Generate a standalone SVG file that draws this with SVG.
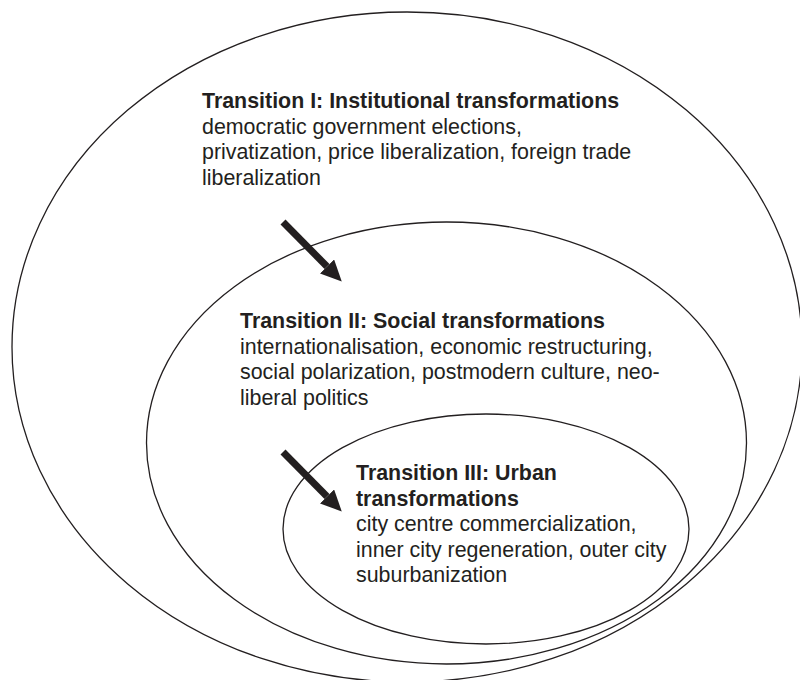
<svg xmlns="http://www.w3.org/2000/svg" width="800" height="680" viewBox="0 0 800 680">
  <style>
    .ring { fill: none; stroke: #231f20; stroke-width: 1.3; }
    .label { font-family: "Liberation Sans", Arial, sans-serif; font-size: 21.4px; fill: #231f20; }
    .title { font-weight: bold; }
    .arrow { stroke: #231f20; stroke-width: 7; fill: none; marker-end: url(#head); }
  </style>
  <defs>
    <marker id="head" markerUnits="userSpaceOnUse" markerWidth="22" markerHeight="20" refX="0" refY="10" orient="auto" viewBox="0 0 22 20">
      <path d="M0,0 L21,10 L0,20 Z" fill="#231f20"/>
    </marker>
  </defs>
  <rect width="800" height="680" fill="#ffffff"/>

  <!-- Transition I: outer ring -->
  <g id="transition-1">
    <ellipse class="ring" cx="407" cy="347" rx="395" ry="335"/>
    <text class="label" x="202" y="108"><tspan class="title">Transition I: Institutional transformations</tspan></text>
    <text class="label" x="202" y="133.5">democratic government elections,</text>
    <text class="label" x="202" y="159">privatization, price liberalization, foreign trade</text>
    <text class="label" x="202" y="184.5">liberalization</text>
  </g>

  <!-- Transition II: middle ring -->
  <g id="transition-2">
    <ellipse class="ring" cx="446.5" cy="443" rx="300" ry="221"/>
    <text class="label" x="240" y="328"><tspan class="title">Transition II: Social transformations</tspan></text>
    <text class="label" x="240" y="353.5">internationalisation, economic restructuring,</text>
    <text class="label" x="240" y="379">social polarization, postmodern culture, neo-</text>
    <text class="label" x="240" y="404.5">liberal politics</text>
  </g>

  <!-- Transition III: inner ring -->
  <g id="transition-3">
    <ellipse class="ring" cx="486" cy="529" rx="203" ry="115"/>
    <text class="label" x="356" y="480"><tspan class="title">Transition III: Urban</tspan></text>
    <text class="label" x="356" y="506"><tspan class="title">transformations</tspan></text>
    <text class="label" x="356" y="531">city centre commercialization,</text>
    <text class="label" x="356" y="557">inner city regeneration, outer city</text>
    <text class="label" x="356" y="582">suburbanization</text>
  </g>

  <!-- arrows leading inward from one ring to the next -->
  <g id="connectors">
    <line class="arrow" x1="283" y1="222" x2="327" y2="266.5"/>
    <line class="arrow" x1="283" y1="452" x2="327" y2="496.5"/>
  </g>
</svg>
